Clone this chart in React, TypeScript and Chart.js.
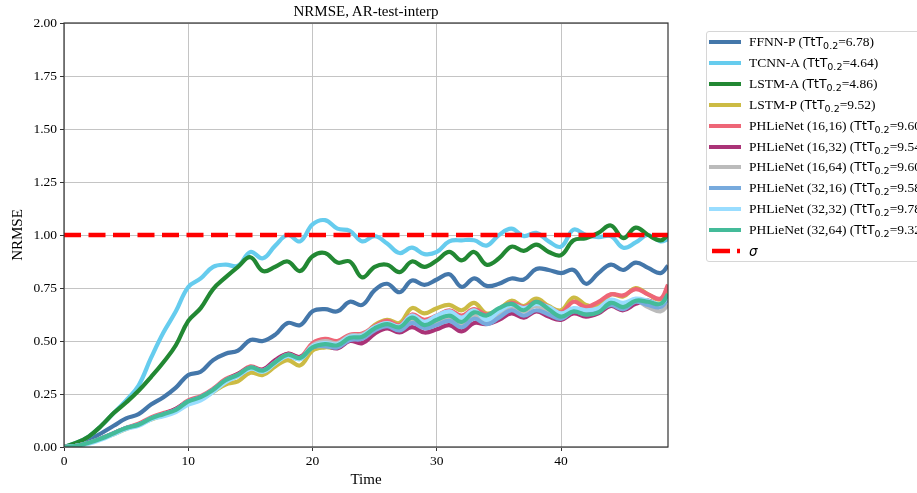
import React, { useEffect, useRef } from "react";
import { Chart, registerables } from "chart.js";

Chart.register(...registerables);

const titleText = "NRMSE, AR-test-interp";
const xTitle = "Time";
const yTitle = "NRMSE";

const times = [
  0, 1, 2, 3, 4, 5, 6, 7, 8, 9, 10, 11, 12, 13, 14, 15, 16, 17, 18, 19, 20, 21, 22, 23, 24,
  25, 26, 27, 28, 29, 30, 31, 32, 33, 34, 35, 36, 37, 38, 39, 40, 41, 42, 43, 44, 45, 46, 47, 48, 48.6,
];

const xTicks = [0, 10, 20, 30, 40];
const yTicks = [0, 0.25, 0.5, 0.75, 1.0, 1.25, 1.5, 1.75, 2.0];

const ffnnP = [
  0, 0.01, 0.035, 0.065, 0.1, 0.135, 0.155, 0.2, 0.235, 0.28, 0.34, 0.355, 0.41, 0.44, 0.455, 0.505, 0.5, 0.53, 0.585, 0.575,
  0.64, 0.65, 0.64, 0.685, 0.67, 0.74, 0.77, 0.73, 0.785, 0.765, 0.79, 0.815, 0.755, 0.795, 0.76, 0.77, 0.795, 0.79, 0.84, 0.835,
  0.82, 0.835, 0.77, 0.82, 0.86, 0.835, 0.87, 0.845, 0.82, 0.855,
];
const tcnnA = [
  0, 0.02, 0.05, 0.1, 0.16, 0.22, 0.29, 0.42, 0.54, 0.64, 0.755, 0.795, 0.85, 0.86, 0.855, 0.92, 0.89, 0.95, 1.0, 0.97,
  1.05, 1.07, 1.03, 1.02, 0.97, 0.995, 0.96, 0.915, 0.94, 0.91, 0.92, 0.97, 0.975, 0.975, 0.95, 1.0, 1.03, 0.995, 1.01, 0.97,
  0.945, 1.025, 1.0, 0.99, 0.995, 0.94, 0.965, 1.0, 0.97, 0.98,
];
const lstmA = [
  0, 0.02, 0.05, 0.1, 0.16, 0.21, 0.265, 0.33, 0.4, 0.48, 0.595, 0.655, 0.745, 0.8, 0.85, 0.895, 0.83, 0.85, 0.875, 0.83,
  0.9, 0.915, 0.87, 0.875, 0.8, 0.85, 0.86, 0.825, 0.875, 0.85, 0.88, 0.92, 0.88, 0.92, 0.86, 0.89, 0.945, 0.925, 0.955, 0.92,
  0.905, 0.975, 0.985, 1.01, 1.045, 0.985, 1.035, 1.0, 0.975, 1.0,
];
const lstmP = [
  0, 0.005, 0.02, 0.04, 0.06, 0.085, 0.105, 0.13, 0.15, 0.17, 0.21, 0.225, 0.26, 0.295, 0.31, 0.35, 0.34, 0.38, 0.41, 0.385,
  0.455, 0.47, 0.47, 0.51, 0.52, 0.575, 0.6, 0.585, 0.655, 0.63, 0.655, 0.67, 0.645, 0.68, 0.63, 0.65, 0.69, 0.665, 0.7, 0.665,
  0.645, 0.705, 0.67, 0.665, 0.72, 0.71, 0.75, 0.72, 0.695, 0.74,
];
const ph1616 = [
  0, 0.005, 0.02, 0.04, 0.065, 0.09, 0.11, 0.14, 0.16, 0.18, 0.22, 0.24, 0.275, 0.32, 0.345, 0.38, 0.365, 0.405, 0.44, 0.425,
  0.49, 0.51, 0.5, 0.53, 0.535, 0.57, 0.595, 0.575, 0.625, 0.6, 0.62, 0.645, 0.62, 0.65, 0.625, 0.645, 0.68, 0.66, 0.685, 0.66,
  0.635, 0.685, 0.66, 0.685, 0.72, 0.715, 0.745, 0.72, 0.7, 0.765,
];
const ph1632 = [
  0, 0.005, 0.02, 0.04, 0.065, 0.09, 0.105, 0.135, 0.155, 0.18, 0.215, 0.235, 0.27, 0.315, 0.345, 0.375, 0.365, 0.41, 0.44, 0.425,
  0.47, 0.48, 0.465, 0.5, 0.49, 0.535, 0.56, 0.54, 0.565, 0.54, 0.555, 0.575, 0.545, 0.585, 0.58, 0.6, 0.63, 0.61, 0.64, 0.615,
  0.6, 0.63, 0.615, 0.63, 0.665, 0.645, 0.675, 0.69, 0.67, 0.705,
];
const ph1664 = [
  0, 0.005, 0.02, 0.04, 0.065, 0.09, 0.105, 0.135, 0.155, 0.175, 0.215, 0.235, 0.27, 0.315, 0.34, 0.375, 0.36, 0.4, 0.435, 0.42,
  0.48, 0.5, 0.49, 0.525, 0.53, 0.565, 0.585, 0.565, 0.6, 0.575, 0.59, 0.605, 0.58, 0.62, 0.585, 0.625, 0.66, 0.64, 0.665, 0.635,
  0.62, 0.65, 0.63, 0.645, 0.68, 0.665, 0.69, 0.66, 0.64, 0.67,
];
const ph3216 = [
  0, 0.005, 0.02, 0.04, 0.065, 0.09, 0.105, 0.135, 0.155, 0.175, 0.215, 0.235, 0.27, 0.31, 0.335, 0.37, 0.36, 0.4, 0.43, 0.415,
  0.47, 0.475, 0.47, 0.505, 0.51, 0.55, 0.57, 0.55, 0.585, 0.56, 0.575, 0.595, 0.565, 0.605, 0.58, 0.61, 0.645, 0.62, 0.645, 0.625,
  0.605, 0.64, 0.625, 0.64, 0.67, 0.65, 0.685, 0.67, 0.66, 0.7,
];
const ph3232 = [
  0, 0.005, 0.015, 0.035, 0.06, 0.085, 0.1, 0.13, 0.145, 0.165, 0.2, 0.22, 0.26, 0.305, 0.335, 0.37, 0.355, 0.395, 0.43, 0.415,
  0.475, 0.49, 0.485, 0.52, 0.525, 0.565, 0.585, 0.57, 0.62, 0.59, 0.62, 0.64, 0.61, 0.645, 0.6, 0.64, 0.67, 0.655, 0.675, 0.66,
  0.63, 0.655, 0.645, 0.655, 0.695, 0.68, 0.7, 0.69, 0.675, 0.71,
];
const ph3264 = [
  0, 0.005, 0.02, 0.04, 0.065, 0.09, 0.105, 0.135, 0.155, 0.175, 0.215, 0.235, 0.27, 0.315, 0.34, 0.375, 0.36, 0.4, 0.435, 0.42,
  0.47, 0.485, 0.48, 0.515, 0.52, 0.56, 0.58, 0.565, 0.61, 0.575, 0.6, 0.62, 0.59, 0.635, 0.62, 0.655, 0.675, 0.645, 0.685, 0.65,
  0.615, 0.64, 0.625, 0.635, 0.68, 0.66, 0.69, 0.685, 0.675, 0.72,
];

const sigmaLevel = 1.0;

const seriesNames = [
  "FFNN-P",
  "TCNN-A",
  "LSTM-A",
  "LSTM-P",
  "PHLieNet (16,16)",
  "PHLieNet (16,32)",
  "PHLieNet (16,64)",
  "PHLieNet (32,16)",
  "PHLieNet (32,32)",
  "PHLieNet (32,64)",
];
const ttValues = ["6.78", "4.64", "4.86", "9.52", "9.60", "9.54", "9.60", "9.58", "9.78", "9.32"];
const seriesColors = [
  "#4477AA",
  "#66CCEE",
  "#228833",
  "#CCBB44",
  "#EE6677",
  "#AA3377",
  "#BBBBBB",
  "#77AADD",
  "#99DDFF",
  "#44BB99",
];
const seriesValues = [ffnnP, tcnnA, lstmA, lstmP, ph1616, ph1632, ph1664, ph3216, ph3232, ph3264];

const SERIF = "'Liberation Serif', 'Times New Roman', serif";

const framePlugin = {
  id: "frame",
  afterDatasetsDraw(chart: any) {
    const { ctx, chartArea: a } = chart;
    ctx.save();
    ctx.strokeStyle = "#333";
    ctx.lineWidth = 1.2;
    ctx.strokeRect(a.left, a.top, a.right - a.left, a.bottom - a.top);
    ctx.restore();
  },
};

export default function App() {
  const ref = useRef<HTMLCanvasElement>(null);

  useEffect(() => {
    if (!ref.current) return;
    const n = seriesNames.length;
    const datasets: any[] = seriesNames.map((name, i) => ({
      label: name,
      data: times.map((t, j) => ({ x: t, y: seriesValues[i][j] })),
      borderColor: seriesColors[i],
      backgroundColor: seriesColors[i],
      borderWidth: 4.2,
      pointRadius: 0,
      tension: 0.4,
      fill: false,
      clip: 0,
      borderJoinStyle: "round",
      order: n - i,
    }));
    datasets.push({
      label: "σ",
      data: [
        { x: times[0], y: sigmaLevel },
        { x: times[times.length - 1], y: sigmaLevel },
      ],
      borderColor: "#FF0000",
      backgroundColor: "#FF0000",
      borderWidth: 4.5,
      borderDash: [17, 7.5],
      pointRadius: 0,
      tension: 0,
      fill: false,
      clip: 0,
      order: 0,
    });

    const chart = new Chart(ref.current, {
      type: "line",
      data: { datasets },
      plugins: [framePlugin],
      options: {
        animation: false,
        responsive: false,
        devicePixelRatio: 1,
        layout: { padding: { top: 23, right: 249, bottom: 0, left: 0 } },
        plugins: {
          legend: { display: false },
          title: { display: false },
          tooltip: { enabled: false },
        },
        scales: {
          x: {
            type: "linear",
            min: 0,
            max: times[times.length - 1],
            afterBuildTicks: (s: any) => {
              s.ticks = xTicks.map((v) => ({ value: v }));
            },
            afterFit: (s: any) => {
              s.height = 46;
            },
            ticks: {
              color: "#000",
              font: { family: SERIF, size: 13.5 },
              padding: 2,
              maxRotation: 0,
              autoSkip: false,
            },
            grid: {
              color: "#c4c4c4",
              lineWidth: 1,
              tickColor: "#333",
              tickLength: 4,
              tickWidth: 1,
            },
            border: { display: false },
            title: {
              display: true,
              text: xTitle,
              color: "#000",
              font: { family: SERIF, size: 15 },
              padding: { top: 0, bottom: 4 },
            },
          },
          y: {
            type: "linear",
            min: 0,
            max: 2,
            afterBuildTicks: (s: any) => {
              s.ticks = yTicks.map((v) => ({ value: v }));
            },
            afterFit: (s: any) => {
              s.width = 64;
            },
            ticks: {
              color: "#000",
              font: { family: SERIF, size: 13.5 },
              padding: 3,
              callback: (v: any) => Number(v).toFixed(2),
            },
            grid: {
              color: "#c4c4c4",
              lineWidth: 1,
              tickColor: "#333",
              tickLength: 4,
              tickWidth: 1,
            },
            border: { display: false },
            title: {
              display: true,
              text: yTitle,
              color: "#000",
              font: { family: SERIF, size: 15 },
              padding: { top: 9, bottom: 0 },
            },
          },
        },
      },
    });
    return () => chart.destroy();
  }, []);

  const rowTop = (i: number) => 10 + i * 20.9 - 10;

  return (
    <div
      style={{
        position: "fixed",
        left: 0,
        top: 0,
        width: 917,
        height: 493,
        overflow: "hidden",
        background: "#fff",
      }}
    >
      <canvas ref={ref} width={917} height={493} style={{ position: "absolute", left: 0, top: 0 }} />
      <div
        style={{
          position: "absolute",
          left: 64,
          width: 604,
          top: 1,
          textAlign: "center",
          fontFamily: SERIF,
          fontSize: 15,
          color: "#000",
          lineHeight: "20px",
        }}
      >
        {titleText}
      </div>
      <div
        style={{
          position: "absolute",
          left: 706,
          top: 31,
          width: 260,
          height: 231,
          border: "1px solid #d6d6d6",
          borderRadius: 3,
          boxSizing: "border-box",
          background: "rgba(255,255,255,0.85)",
        }}
      >
        {seriesNames.map((name, i) => (
          <div
            key={name}
            style={{
              position: "absolute",
              left: 0,
              top: rowTop(i),
              height: 20,
              width: 260,
              whiteSpace: "nowrap",
            }}
          >
            <svg width={34} height={20} style={{ position: "absolute", left: 2, top: 0 }}>
              <line x1={0} y1={10} x2={32} y2={10} stroke={seriesColors[i]} strokeWidth={4} />
            </svg>
            <span
              style={{
                position: "absolute",
                left: 42,
                top: 0,
                lineHeight: "20px",
                fontFamily: SERIF,
                fontSize: 13.5,
                color: "#000",
              }}
            >
              {name} (
              <span style={{ fontFamily: "'DejaVu Sans', sans-serif", fontSize: 12.5 }}>
                TtT
                <span style={{ fontSize: 9.5, position: "relative", top: 3 }}>0.2</span>
              </span>
              ={ttValues[i]})
            </span>
          </div>
        ))}
        <div
          style={{
            position: "absolute",
            left: 0,
            top: rowTop(10),
            height: 20,
            width: 260,
          }}
        >
          <svg width={34} height={20} style={{ position: "absolute", left: 2, top: 0 }}>
            <line x1={3} y1={10} x2={31} y2={10} stroke="#FF0000" strokeWidth={4.5} strokeDasharray="18 7" />
          </svg>
          <span
            style={{
              position: "absolute",
              left: 42,
              top: 0,
              lineHeight: "20px",
              fontFamily: "'DejaVu Sans', sans-serif",
              fontStyle: "italic",
              fontSize: 13.5,
              color: "#000",
            }}
          >
            σ
          </span>
        </div>
      </div>
    </div>
  );
}
